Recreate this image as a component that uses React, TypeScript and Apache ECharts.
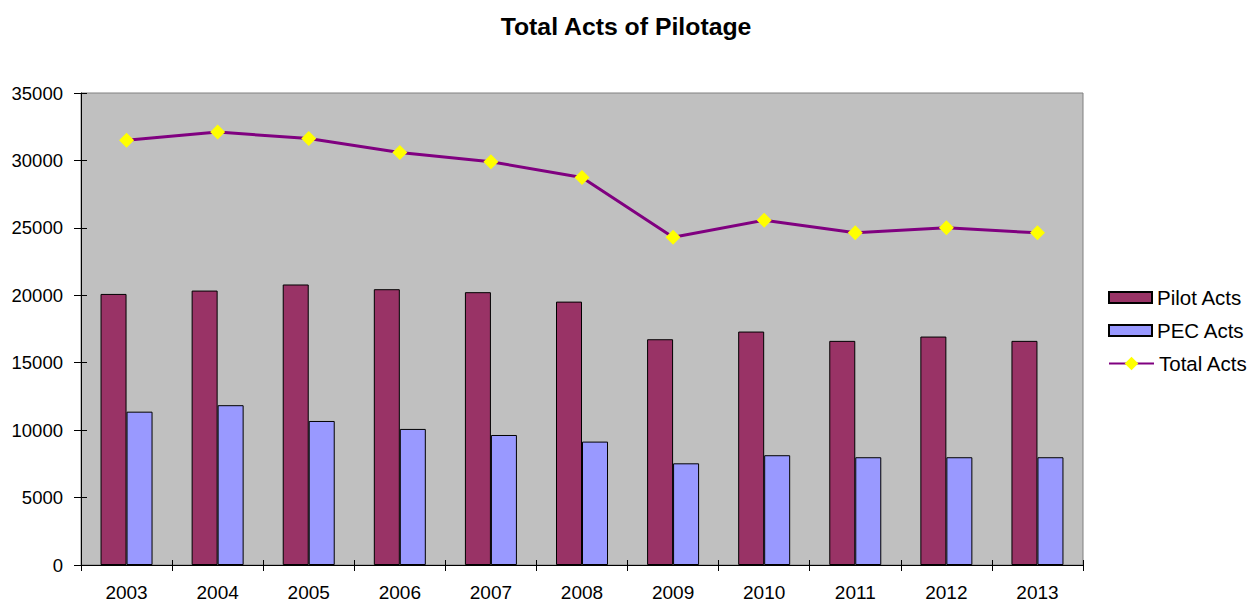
import React, { useEffect, useRef } from "react";
import * as echarts from "echarts";

const years = ["2003", "2004", "2005", "2006", "2007", "2008", "2009", "2010", "2011", "2012", "2013"];
const pilotActs = [20100, 20350, 20800, 20450, 20230, 19530, 16740, 17310, 16620, 16940, 16620];
const pecActs = [11370, 11850, 10680, 10090, 9640, 9150, 7540, 8140, 7990, 7990, 7990];
const totalActs = [31500, 32100, 31630, 30590, 29900, 28730, 24310, 25570, 24630, 25000, 24630];

const FONT = 'Arial, "Liberation Sans", sans-serif';

export default function App() {
  const ref = useRef<HTMLDivElement>(null);
  useEffect(() => {
    if (!ref.current) return;
    const chart = echarts.init(ref.current, undefined, { renderer: "svg" });
    const yBase = {
      type: "value",
      min: 0,
      max: 35000,
      interval: 5000,
      splitLine: { show: false },
    };
    const xBase = {
      type: "category",
      data: years,
      boundaryGap: true,
    };
    const legendText = { fontFamily: FONT, fontSize: 20.5, color: "#000", lineHeight: 20 };
    chart.setOption({
      animation: false,
      backgroundColor: "#ffffff",
      title: {
        text: "Total Acts of Pilotage",
        left: "center",
        top: 9,
        textStyle: { fontFamily: FONT, fontSize: 24.8, fontWeight: "bold", color: "#000" },
      },
      legend: [
        {
          orient: "vertical",
          left: 1103,
          top: 282,
          itemWidth: 43,
          itemHeight: 11,
          itemGap: 12,
          textStyle: legendText,
          data: [
            { name: "Pilot Acts", icon: "rect" },
            { name: "PEC Acts", icon: "rect" },
          ],
        },
        {
          orient: "vertical",
          left: 1103,
          top: 348,
          itemWidth: 45,
          itemHeight: 17,
          textStyle: legendText,
          data: [{ name: "Total Acts" }],
        },
      ],
      grid: {
        left: 81,
        top: 93,
        right: 169,
        bottom: 38,
        show: true,
        backgroundColor: "#C0C0C0",
        borderColor: "#808080",
        borderWidth: 1,
      },
      xAxis: [
        {
          ...xBase,
          axisLine: { show: true, lineStyle: { color: "#000", width: 1 } },
          axisTick: { show: true, inside: false, length: 6, lineStyle: { color: "#000" } },
          axisLabel: { fontFamily: FONT, fontSize: 19, color: "#000", margin: 18 },
        },
        {
          ...xBase,
          position: "bottom",
          axisLine: { show: false },
          axisTick: { show: true, inside: true, length: 5, lineStyle: { color: "#000" } },
          axisLabel: { show: false },
        },
      ],
      yAxis: [
        {
          ...yBase,
          axisLine: { show: true, lineStyle: { color: "#000", width: 1 } },
          axisTick: { show: true, inside: false, length: 7, lineStyle: { color: "#000" } },
          axisLabel: {
            fontFamily: FONT,
            fontSize: 18.5,
            color: "#000",
            margin: 18,
            formatter: (v: number) => String(v),
          },
        },
        {
          ...yBase,
          position: "left",
          axisLine: { show: false },
          axisTick: { show: true, inside: true, length: 6, lineStyle: { color: "#000" } },
          axisLabel: { show: false },
        },
      ],
      series: [
        {
          name: "Pilot Acts",
          type: "bar",
          data: pilotActs,
          barWidth: 26,
          barGap: "0%",
          itemStyle: { color: "#993366", borderColor: "#000", borderWidth: 1 },
        },
        {
          name: "PEC Acts",
          type: "bar",
          data: pecActs,
          barWidth: 26,
          barGap: "0%",
          itemStyle: { color: "#9999FF", borderColor: "#000", borderWidth: 1 },
        },
        {
          name: "Total Acts",
          type: "line",
          data: totalActs,
          symbol: "diamond",
          symbolSize: 15,
          lineStyle: { color: "#800080", width: 3 },
          itemStyle: { color: "#FFFF00", borderWidth: 0 },
          z: 5,
        },
      ],
    });
    return () => chart.dispose();
  }, []);
  return (
    <div
      ref={ref}
      style={{ position: "fixed", left: 0, top: 0, width: 1252, height: 603 }}
    />
  );
}
